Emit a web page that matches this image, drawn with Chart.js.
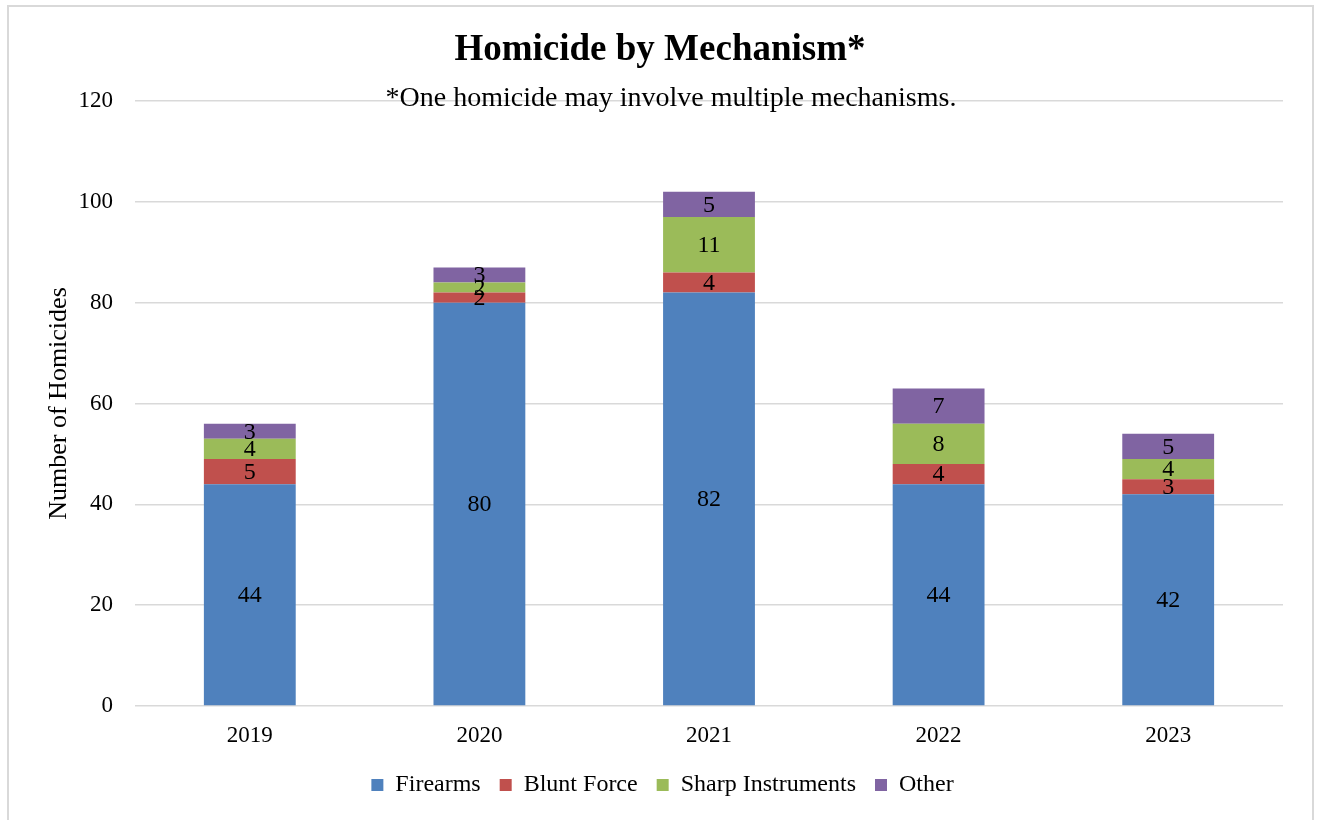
<!DOCTYPE html>
<html>
<head>
    <title>Homicide by Mechanism</title>
    <style>
        body {
            margin: 0;
            padding: 0;
            background: #ffffff;
            overflow: hidden;
        }
        #frame {
            position: absolute;
            left: 7px;
            top: 5px;
            width: 1303px;
            height: 840px;
            border: 2px solid #d9d9d9;
        }
        #chart-box {
            position: absolute;
            left: 0;
            top: 0;
            width: 1317px;
            height: 820px;
        }
    </style>
</head>
<body>
<div id="frame"></div>
<div id="chart-box">
    <canvas id="chart"></canvas>
</div>
<script src="https://cdn.jsdelivr.net/npm/chart.js"></script>
<script>
    // Data
    const years = ['2019', '2020', '2021', '2022', '2023'];
    const firearms = [44, 80, 82, 44, 42];
    const bluntForce = [5, 2, 4, 4, 3];
    const sharpInstruments = [4, 2, 11, 8, 4];
    const other = [3, 3, 5, 7, 5];
    const yTicks = [0, 20, 40, 60, 80, 100, 120];

    const serif = "'Liberation Serif', 'Times New Roman', serif";

    // Title + note drawn on top
    const headingPlugin = {
      id: 'heading',
      afterDraw(chart) {
        const ctx = chart.ctx;
        ctx.save();
        ctx.fillStyle = '#000';
        ctx.textAlign = 'center';
        ctx.textBaseline = 'alphabetic';
        ctx.font = 'bold 37px ' + serif;
        ctx.fillText('Homicide by Mechanism*', 660, 60);
        ctx.font = '28px ' + serif;
        ctx.fillText('*One homicide may involve multiple mechanisms.', 671, 106);
        ctx.restore();
      }
    };

    // Value labels in the middle of each segment
    const segmentLabels = {
      id: 'segmentLabels',
      afterDatasetsDraw(chart) {
        const ctx = chart.ctx;
        ctx.save();
        ctx.fillStyle = '#000';
        ctx.textAlign = 'center';
        ctx.textBaseline = 'middle';
        ctx.font = '24px ' + serif;
        chart.data.datasets.forEach((ds, i) => {
          const meta = chart.getDatasetMeta(i);
          meta.data.forEach((bar, j) => {
            const y = (bar.y + bar.base) / 2;
            ctx.fillText(ds.data[j], bar.x, y + 1);
          });
        });
        ctx.restore();
      }
    };

    const ctx = document.getElementById('chart').getContext('2d');

    const chart = new Chart(ctx, {
      type: 'bar',
      data: {
        labels: years,
        datasets: [
          { label: 'Firearms', data: firearms, backgroundColor: '#4F81BD' },
          { label: 'Blunt Force', data: bluntForce, backgroundColor: '#C0504D' },
          { label: 'Sharp Instruments', data: sharpInstruments, backgroundColor: '#9BBB59' },
          { label: 'Other', data: other, backgroundColor: '#8064A2' },
        ],
      },
      options: {
        responsive: true,
        maintainAspectRatio: false,
        animation: false,
        datasets: {
          bar: {
            barPercentage: 0.4,
            categoryPercentage: 1,
          },
        },
        layout: {
          padding: { left: 42, right: 34, top: 101, bottom: 13 },
        },
        scales: {
          x: {
            stacked: true,
            grid: { display: false },
            border: { display: false },
            ticks: {
              color: '#000',
              padding: 8,
              font: { family: serif, size: 23 },
            },
            afterFit(scale) { scale.height = 48; },
          },
          y: {
            stacked: true,
            min: 0,
            max: 120,
            afterBuildTicks(scale) {
              scale.ticks = yTicks.map(v => ({ value: v }));
            },
            grid: {
              color: '#d9d9d9',
              lineWidth: 1.5,
              drawTicks: false,
            },
            border: { display: false },
            ticks: {
              color: '#000',
              padding: 22,
              font: { family: serif, size: 23 },
            },
            title: {
              display: true,
              text: 'Number of Homicides',
              color: '#000',
              font: { family: serif, size: 26 },
              padding: { top: 2, bottom: 0 },
            },
            afterFit(scale) { scale.width = 93; },
          },
        },
        plugins: {
          legend: {
            position: 'bottom',
            labels: {
              color: '#000',
              boxWidth: 12,
              boxHeight: 12,
              padding: 19,
              font: { family: serif, size: 24 },
            },
          },
          tooltip: { enabled: false },
        },
      },
      plugins: [segmentLabels, headingPlugin],
    });
</script>
</body>
</html>
